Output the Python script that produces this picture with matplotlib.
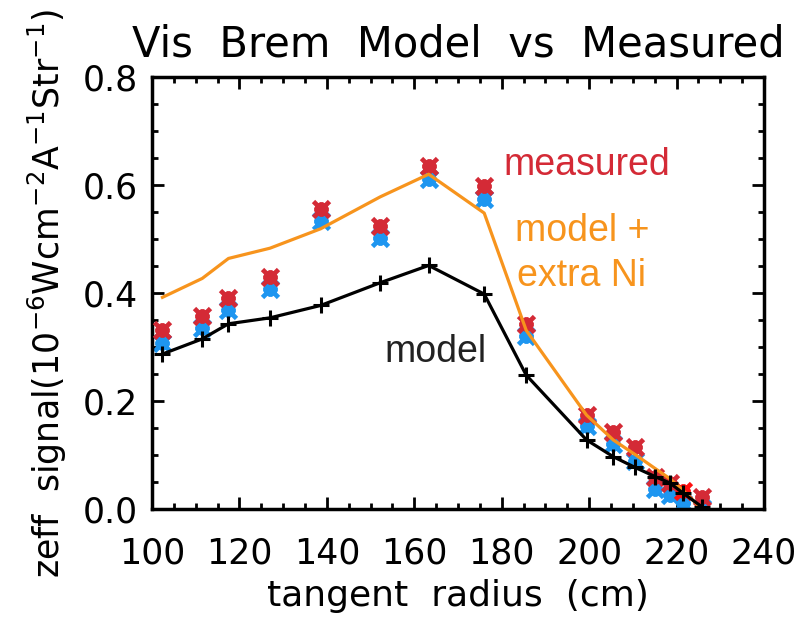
import numpy as np
import matplotlib.pyplot as plt
from matplotlib.ticker import MultipleLocator

# tangent radius of each chord (cm)
radius = [102.4, 111.5, 117.5, 127.0, 138.6, 152.2, 163.3, 176.0,
          185.6, 199.4, 205.5, 210.5, 215.1, 218.5, 221.4, 225.8]

# brem signal, 1e-6 W cm^-2 A^-1 Str^-1
model = [0.287, 0.315, 0.343, 0.354, 0.377, 0.419, 0.451, 0.398,
         0.248, 0.128, 0.097, 0.077, 0.060, 0.048, 0.030, 0.004]
model_ni = [0.392, 0.427, 0.464, 0.483, 0.519, 0.578, 0.620, 0.548,
            0.331, 0.174, 0.128, 0.101, 0.075, 0.056, 0.035, 0.000]
meas_red = [0.331, 0.357, 0.390, 0.430, 0.556, 0.525, 0.636, 0.599,
            0.343, 0.175, 0.143, 0.114, 0.060, 0.049, 0.034, 0.023]
meas_blue = [0.308, 0.335, 0.369, 0.407, 0.533, 0.501, 0.612, 0.575,
             0.320, 0.154, 0.120, 0.089, 0.037, 0.026, 0.011, 0.001]

RED = '#d42a36'
BLUE = '#1e96f0'
ORANGE = '#f7941d'

plt.rcParams['font.family'] = 'DejaVu Sans'

fig = plt.figure(figsize=(8.02, 6.19), dpi=100)
ax = fig.add_axes([0.1895, 0.1777, 0.7631, 0.6979])

# asterisk symbols, blue first so the red sits on top
star = (8, 2, 45)
ax.plot(radius, meas_blue, ls='none', marker=star, ms=10, mew=3,
        color=BLUE, zorder=2)
ax.plot(radius, meas_blue, ls='none', marker='x', ms=11, mew=3.4,
        color=BLUE, zorder=2)
red_cols = [RED] * len(radius)
red_cols[14] = '#ff1010'
for x, y, c in zip(radius, meas_red, red_cols):
    ax.plot(x, y, ls='none', marker=star, ms=10, mew=3, color=c, zorder=3)
    ax.plot(x, y, ls='none', marker='x', ms=11, mew=3.4, color=c, zorder=3)

ax.plot(radius, model_ni, color=ORANGE, lw=2.3, zorder=4)
ax.plot(radius, model, color='black', lw=2.3, marker='+', ms=12, mew=2.2,
        zorder=5)

lab = dict(fontsize=27, family='Liberation Sans', va='center', ha='left')
ax.text(180.3, 0.637, 'measured', color=RED, **lab)
ax.text(183.0, 0.515, 'model +', color=ORANGE, **lab)
ax.text(183.4, 0.431, 'extra Ni', color=ORANGE, **lab)
ax.text(153.3, 0.291, 'model', color='#222222', **lab)

ax.set_xlim(100, 240)
ax.set_ylim(0, 0.8)
ax.xaxis.set_major_locator(MultipleLocator(20))
ax.xaxis.set_minor_locator(MultipleLocator(5))
ax.yaxis.set_major_locator(MultipleLocator(0.2))
ax.yaxis.set_minor_locator(MultipleLocator(0.05))
ax.yaxis.set_major_formatter(plt.FormatStrFormatter('%.1f'))

ax.tick_params(which='both', direction='in', top=True, right=True,
               width=2, labelsize=25, pad=10)
ax.tick_params(which='major', length=8.5)
ax.tick_params(which='minor', length=4)
ax.tick_params(axis='x', pad=20)
for s in ax.spines.values():
    s.set_linewidth(2.5)

ax.set_title('Vis  Brem  Model  vs  Measured', fontsize=30, pad=15)
ax.set_xlabel('tangent  radius  (cm)', fontsize=26, labelpad=6)
ax.set_ylabel(r'zeff  signal(10$^{-6}$Wcm$^{-2}$A$^{-1}$Str$^{-1}$)',
              fontsize=25, labelpad=10)

fig.savefig('out.png', dpi=100)
